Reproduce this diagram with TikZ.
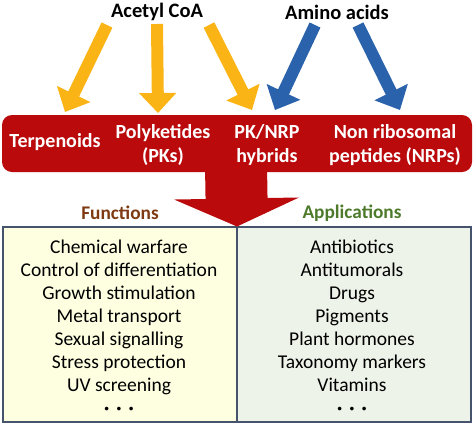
\documentclass[tikz,border=0pt]{standalone}
\usepackage{fontspec}
\setmainfont{Carlito}
\usetikzlibrary{arrows.meta}
\definecolor{ygold}{HTML}{FBB415}
\definecolor{ablue}{HTML}{2B62AC}
\definecolor{dred}{HTML}{BA0A0C}
\definecolor{fbrown}{HTML}{7E3A12}
\definecolor{agreen}{HTML}{4E7A2C}
\definecolor{lyellow}{HTML}{FEFEE0}
\definecolor{lgreen}{HTML}{EDF3E8}
\definecolor{bgray}{HTML}{45546C}
\newcommand{\mydots}{\textbf{·\hspace{7pt}·\hspace{7pt}·}}
\begin{document}
\begin{tikzpicture}[x=1pt,y=-1pt,
  title/.style={font=\fontsize{20.5}{24}\selectfont\bfseries, text=black, inner sep=0pt},
  cls/.style={font=\fontsize{20}{24}\selectfont\bfseries, text=white, align=center, inner sep=0pt},
  head/.style={font=\fontsize{19.3}{22}\selectfont\bfseries, inner sep=0pt},
  items/.style={font=\fontsize{19.5}{23}\selectfont, align=center, inner sep=0pt},
  fatarrow/.style={line width=12pt, -{Triangle[width=36pt,length=20pt]}},
  yarrow/.style={fatarrow, draw=ygold, color=ygold},
  barrow/.style={fatarrow, draw=ablue, color=ablue},
  listbox/.style={draw=bgray, line width=1.6pt, minimum width=234pt, minimum height=195pt, inner sep=0pt}
]
\useasboundingbox (0,0) rectangle (474,424);

% sources
\node[title] (acetyl) at (157,12) {Acetyl CoA};
\node[title] (amino) at (337,12) {Amino acids};

% red class box
\node[fill=dred, rounded corners=10pt, minimum width=470pt, minimum height=57pt, inner sep=0pt] (classes) at (237,143.5) {};
\node[cls] (terp) at (55,142) {Terpenoids};
\node[cls] (pks) at (163,145) {Polyketides\\(PKs)};
\node[cls] (hyb) at (267,145) {PK/NRP\\hybrids};
\node[cls] (nrps) at (395,145) {Non ribosomal\\peptides (NRPs)};

% feeding arrows
\coordinate (y1s) at (107,25); \coordinate (y1e) at (65,112);
\coordinate (y2s) at (157,24); \coordinate (y2e) at (158,113);
\coordinate (y3s) at (209,25); \coordinate (y3e) at (252,110);
\coordinate (b1s) at (315,25); \coordinate (b1e) at (275,110);
\coordinate (b2s) at (358,25); \coordinate (b2e) at (400,110);
\draw[yarrow] (y1s) -- (y1e);
\draw[yarrow] (y2s) -- (y2e);
\draw[yarrow] (y3s) -- (y3e);
\draw[barrow] (b1s) -- (b1e);
\draw[barrow] (b2s) -- (b2e);

% lower boxes
\node[listbox, fill=lyellow] (fbox) at (120,324.5) {};
\node[listbox, fill=lgreen] (abox) at (354,324.5) {};

% big arrow
\coordinate (bigtop) at (236,165);
\coordinate (bigtip) at (237,226.5);
\draw[dred, line width=62pt, -{Triangle[width=124pt,length=28pt]}] (bigtop) -- (bigtip);

\node[head, text=fbrown] (func) at (120,213) {Functions};
\node[head, text=agreen] (appl) at (352,213) {Applications};

\node[items] (flist) at (119,327) {Chemical warfare\\Control of differentiation\\Growth stimulation\\Metal transport\\Sexual signalling\\Stress protection\\UV screening\\\mydots};
\node[items] (alist) at (352,327) {Antibiotics\\Antitumorals\\Drugs\\Pigments\\Plant hormones\\Taxonomy markers\\Vitamins\\\mydots};
\end{tikzpicture}
\end{document}
